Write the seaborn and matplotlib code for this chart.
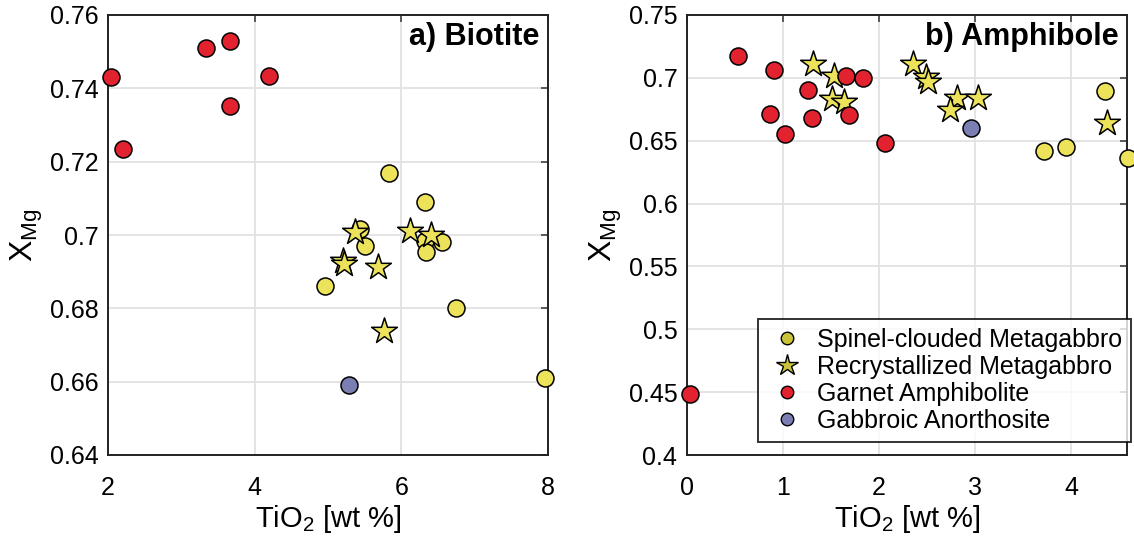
import numpy as np
import pandas as pd
import matplotlib
matplotlib.use("Agg")
import matplotlib.pyplot as plt
from matplotlib.lines import Line2D
from matplotlib.ticker import FuncFormatter
import seaborn as sns

# ---------------- data ----------------
groups = ["Spinel-clouded Metagabbro", "Recrystallized Metagabbro",
          "Garnet Amphibolite", "Gabbroic Anorthosite"]

# Panel a) Biotite
bio_spinel_x = [5.83, 6.32, 5.43, 5.50, 6.32, 6.33, 6.56, 4.96, 6.74, 7.96]
bio_spinel_y = [0.717, 0.709, 0.7016, 0.697, 0.6984, 0.6954, 0.6982, 0.686, 0.6802, 0.6609]
bio_recr_x = [5.37, 6.12, 6.41, 5.21, 5.22, 5.68, 5.76]
bio_recr_y = [0.7008, 0.7012, 0.700, 0.6928, 0.6922, 0.6914, 0.6737]
bio_garnet_x = [2.04, 2.20, 3.33, 3.66, 3.67, 4.19]
bio_garnet_y = [0.743, 0.7235, 0.7509, 0.7528, 0.7353, 0.7434]
bio_gabbro_x = [5.28]
bio_gabbro_y = [0.6591]

# Panel b) Amphibole
amp_spinel_x = [4.35, 3.72, 3.95, 4.59]
amp_spinel_y = [0.6898, 0.642, 0.645, 0.6362]
amp_recr_x = [1.31, 1.53, 1.51, 1.63, 2.35, 2.49, 2.51, 2.81, 3.03, 2.74, 4.375]
amp_recr_y = [0.7108, 0.7015, 0.6834, 0.681, 0.7108, 0.701, 0.697, 0.684, 0.684, 0.6744, 0.6643]
amp_garnet_x = [0.53, 0.91, 1.26, 1.66, 1.83, 0.86, 1.30, 1.69, 1.02, 2.06, 0.03]
amp_garnet_y = [0.7174, 0.7065, 0.690, 0.7012, 0.6999, 0.6715, 0.6678, 0.6705, 0.6551, 0.648, 0.4485]
amp_gabbro_x = [2.96]
amp_gabbro_y = [0.660]

bio_yticks = [0.64, 0.66, 0.68, 0.70, 0.72, 0.74, 0.76]
bio_xticks = [2, 4, 6, 8]
amp_yticks = [0.4, 0.45, 0.5, 0.55, 0.6, 0.65, 0.7, 0.75]
amp_xticks = [0, 1, 2, 3, 4]

# ---------------- style ----------------
colors = {groups[0]: "#ECE35A", groups[1]: "#ECE35A",
          groups[2]: "#E3222F", groups[3]: "#7A7EB3"}
legend_colors = {groups[0]: "#C9C23A", groups[1]: "#C9C23A",
                 groups[2]: "#E3222F", groups[3]: "#7A7EB3"}
markers = {groups[0]: "o", groups[1]: "*", groups[2]: "o", groups[3]: "o"}
sizes = {groups[0]: 150, groups[1]: 380, groups[2]: 150, groups[3]: 150}

sns.set_style("white")
plt.rcParams["font.family"] = ["Liberation Sans", "DejaVu Sans"]
plt.rcParams["mathtext.fontset"] = "custom"
plt.rcParams["mathtext.rm"] = "Liberation Sans"
plt.rcParams["mathtext.it"] = "Liberation Sans:italic"
plt.rcParams["mathtext.bf"] = "Liberation Sans:bold"
plt.rcParams["text.color"] = "black"
plt.rcParams["axes.labelcolor"] = "black"
plt.rcParams["xtick.color"] = "black"
plt.rcParams["ytick.color"] = "black"


def make_df(sx, sy, rx, ry, gx, gy, ax_, ay_):
    frames = []
    for g, xs, ys in zip(groups, [sx, rx, gx, ax_], [sy, ry, gy, ay_]):
        frames.append(pd.DataFrame({"x": xs, "y": ys, "group": g}))
    return frames


fig = plt.figure(figsize=(11.34, 5.5), dpi=100)
axA = fig.add_axes([108 / 1134, 95 / 550, 440 / 1134, 440 / 550])
axB = fig.add_axes([687 / 1134, 95 / 550, 440 / 1134, 440 / 550])

panels = [
    (axA, make_df(bio_spinel_x, bio_spinel_y, bio_recr_x, bio_recr_y,
                  bio_garnet_x, bio_garnet_y, bio_gabbro_x, bio_gabbro_y),
     (2, 8), (0.64, 0.76), bio_xticks, bio_yticks, "a) Biotite"),
    (axB, make_df(amp_spinel_x, amp_spinel_y, amp_recr_x, amp_recr_y,
                  amp_garnet_x, amp_garnet_y, amp_gabbro_x, amp_gabbro_y),
     (0, 4.58), (0.4, 0.75), amp_xticks, amp_yticks, "b) Amphibole"),
]

for ax, frames, xl, yl, xt, yt, title in panels:
    for df in frames:
        g = df["group"].iloc[0]
        sns.scatterplot(data=df, x="x", y="y", ax=ax, color=colors[g],
                        marker=markers[g], s=sizes[g], edgecolor="black",
                        linewidth=1.1, legend=False, zorder=3, clip_on=False)
    ax.set_xlim(*xl)
    ax.set_ylim(*yl)
    ax.set_xticks(xt)
    ax.set_yticks(yt)
    ax.yaxis.set_major_formatter(FuncFormatter(lambda v, p: f"{v:g}"))
    ax.grid(True, color="#E2E2E2", linewidth=1.3, zorder=0)
    ax.set_axisbelow(True)
    ax.tick_params(direction="in", top=True, right=True, length=5, width=1.1,
                   labelsize=18, color="#333333", pad=7)
    ax.tick_params(axis="x", pad=15)
    for sp in ax.spines.values():
        sp.set_visible(True)
        sp.set_color("#222222")
        sp.set_linewidth(1.4)
    ax.set_xlabel(r"$\mathrm{TiO_2}$ [wt %]", fontsize=21, labelpad=2)
    ax.set_ylabel(r"$\mathrm{X_{Mg}}$", fontsize=23, labelpad=3)
    ax.text(0.98, 0.95, title, transform=ax.transAxes, ha="right", va="center",
            fontsize=22, fontweight="bold", zorder=5)

handles = [Line2D([0], [0], linestyle="none", marker=markers[g],
                  markerfacecolor=legend_colors[g], markeredgecolor="black",
                  markeredgewidth=1.0, markersize=(9 if markers[g] == "o" else 16))
           for g in groups]
leg = axB.legend(handles, groups, loc="lower right", bbox_to_anchor=(1.009, 0.03),
                 fontsize=18, frameon=True, fancybox=False, edgecolor="black",
                 borderpad=0.35, labelspacing=0.12, handletextpad=0.4,
                 handlelength=1.6, borderaxespad=0)
leg.get_frame().set_linewidth(1.4)
leg.set_zorder(10)

fig.savefig("out.png", dpi=100)
